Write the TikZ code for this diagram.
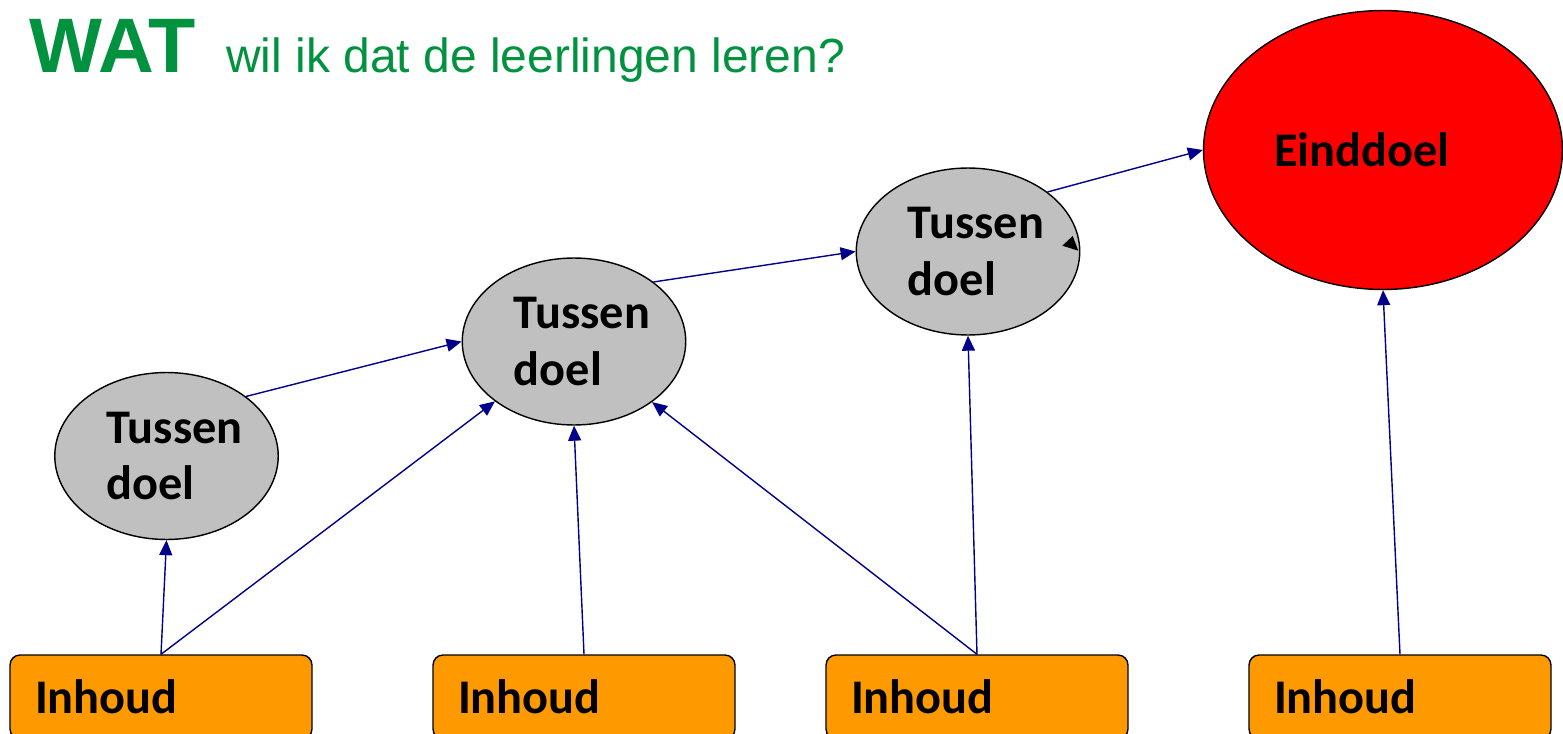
\documentclass[tikz,border=0pt]{standalone}
\usepackage{fontspec}
\setmainfont{Carlito}
\newfontfamily\arialfont{Liberation Sans}
\usetikzlibrary{shapes.geometric,arrows.meta}
\definecolor{watgroen}{RGB}{0,146,63}
\definecolor{pijlblauw}{RGB}{0,0,139}
\definecolor{inhoudoranje}{RGB}{255,153,0}
\definecolor{tussengrijs}{RGB}{192,192,192}
\newcommand*{\tussendoel}{\hspace*{0.32cm}Tussen\\\hspace*{0.32cm}doel}

\begin{document}
\begin{tikzpicture}[x=0.02cm,y=-0.02cm,
		doel/.style={ellipse,draw=black,line width=0.8pt,inner sep=0pt,align=left,
			font=\bfseries\fontsize{27.5}{32}\selectfont,minimum width=4.47cm,minimum height=3.34cm},
		tussen/.style={doel,fill=tussengrijs},
		eind/.style={doel,fill=red,minimum width=7.18cm,minimum height=5.58cm},
		inhoud/.style={draw=black,line width=0.8pt,rounded corners=0.2cm,fill=inhoudoranje,
			text width=5.04cm,inner xsep=0.5cm,minimum height=1.68cm,align=left,
			font=\bfseries\fontsize{27.5}{32}\selectfont},
		pijl/.style={draw=pijlblauw,line width=0.8pt,-{Triangle[length=0.3cm,width=0.26cm]}}]
		\useasboundingbox (0,0) rectangle (1563,734);
		\node[anchor=base west,inner sep=0pt,text=watgroen,font=\arialfont\bfseries\fontsize{44}{48}\selectfont] (wat) at (29,72) {WAT};
		\node[anchor=base west,inner sep=0pt,text=watgroen,font=\arialfont\fontsize{27.3}{32}\selectfont] (vraag) at (226,72) {wil ik dat de leerlingen leren?};
		\node[tussen] (t1) at (166.5,456) {\tussendoel};
		\node[tussen] (t2) at (574,341.5) {\tussendoel};
		\node[tussen] (t3) at (968,251.5) {\tussendoel};
		\node[eind] (eind) at (1383,150) {\hspace*{-0.84cm}Einddoel};
		\node[inhoud] (i1) at (161,697) {Inhoud};
		\node[inhoud] (i2) at (584,697) {Inhoud};
		\node[inhoud] (i3) at (977,697) {Inhoud};
		\node[inhoud] (i4) at (1400,697) {Inhoud};
		\draw[pijl] (i1.north) -- (t1.south);
		\draw[pijl] (i1.north) -- (t2);
		\draw[pijl] (i2.north) -- (t2.south);
		\draw[pijl] (i3.north) -- (t2);
		\draw[pijl] (i3.north) -- (t3.south);
		\draw[pijl] (i4.north) -- (eind.south);
		\draw[pijl] (t1.north east) -- (t2.west);
		\draw[pijl] (t2.north east) -- (t3.west);
		\draw[pijl] (t3.north east) -- (eind.west);
		% losse pijlpunt in het derde tussendoel
		\fill (1062.3,245.7) -- (1072.7,236) -- (1078.3,250.7) -- cycle;
	\end{tikzpicture}
\end{document}
